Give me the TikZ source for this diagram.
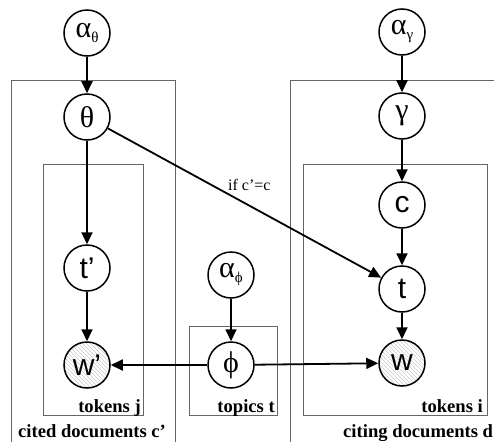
\documentclass[tikz,border=0pt]{standalone}
\usepackage{fontspec}
\setmainfont{Liberation Serif}
\newfontfamily\sansf{Liberation Sans}
\usetikzlibrary{arrows.meta,patterns.meta}
\tikzdeclarepattern{
  name=hatch,
  type=uncolored,
  bottom left={(-.1pt,-.1pt)},
  top right={(4.1pt,4.1pt)},
  tile size={(4pt,4pt)},
  code={\draw[line width=0.6pt] (0,4pt) -- (4pt,0);}
}
\tikzset{
  var/.style={circle,draw=black,line width=1.5pt,minimum size=46pt,inner sep=0pt,fill=white},
  obs/.style={var,pattern=hatch,pattern color=gray!40},
  edge/.style={line width=1.8pt,-{Triangle[length=12pt,width=11pt]}},
  plate/.style={draw=gray!80!black,line width=0.7pt},
  platelab/.style={font=\fontsize{18.6}{19}\selectfont\bfseries},
  gk/.style={font=\fontsize{30}{30}\selectfont},
  lt/.style={font=\fontsize{30}{30}\sansf}
}
\newcommand{\subg}[1]{\raisebox{-5pt}{\fontsize{15}{15}\selectfont #1}}
\begin{document}
\begin{tikzpicture}[x=1pt,y=-1pt]
\useasboundingbox (0,0) rectangle (494,441);
\clip (0,0) rectangle (494,441);
% plates
\draw[plate] (11,450) -- (11,80) -- (175,80) -- (175,450);
\draw[plate] (43,415) rectangle (143,164);
\draw[plate] (189,415) rectangle (277,326);
\draw[plate] (290,450) -- (290,80) -- (500,80);
\draw[plate] (303,415) rectangle (487,164);
% nodes
\node[var,gk] (at) at (87,33) {α\subg{θ}};
\node[var,gk] (th) at (87,117) {θ};
\node[var,lt] (tp) at (87,268) {t’};
\node[obs,lt] (wp) at (87,365) {w’};
\node[var,gk] (ap) at (231,275) {α\subg{ϕ}};
\node[var,gk] (ph) at (231,365) {ϕ};
\node[var,gk] (ag) at (402,32) {α\subg{γ}};
\node[var,gk] (ga) at (402,116) {γ};
\node[var,lt] (c) at (402,205) {c};
\node[var,lt] (t) at (402,289) {t};
\node[obs,lt] (w) at (402,363) {w};
% edges
\draw[edge] (at) -- (th);
\draw[edge] (th) -- (tp);
\draw[edge] (tp) -- (wp);
\draw[edge] (th) -- (t);
\draw[edge] (ap) -- (ph);
\draw[edge] (ph) -- (wp);
\draw[edge] (ph) -- (w);
\draw[edge] (ag) -- (ga);
\draw[edge] (ga) -- (c);
\draw[edge] (c) -- (t);
\draw[edge] (t) -- (w);
% labels
\node[anchor=base west,font=\fontsize{16}{16}\selectfont,inner sep=0pt] (cond) at (228,190) {if c’=c};
\node[platelab,anchor=base east,inner sep=0pt] (lj) at (141,412) {tokens j};
\node[platelab,anchor=base west,inner sep=0pt] (lc) at (18,437) {cited documents c’};
\node[platelab,anchor=base east,inner sep=0pt] (lt) at (275,412) {topics t};
\node[platelab,anchor=base east,inner sep=0pt] (li) at (483,412) {tokens i};
\node[platelab,anchor=base west,inner sep=0pt] (ld) at (343,437) {citing documents d};
\end{tikzpicture}
\end{document}
